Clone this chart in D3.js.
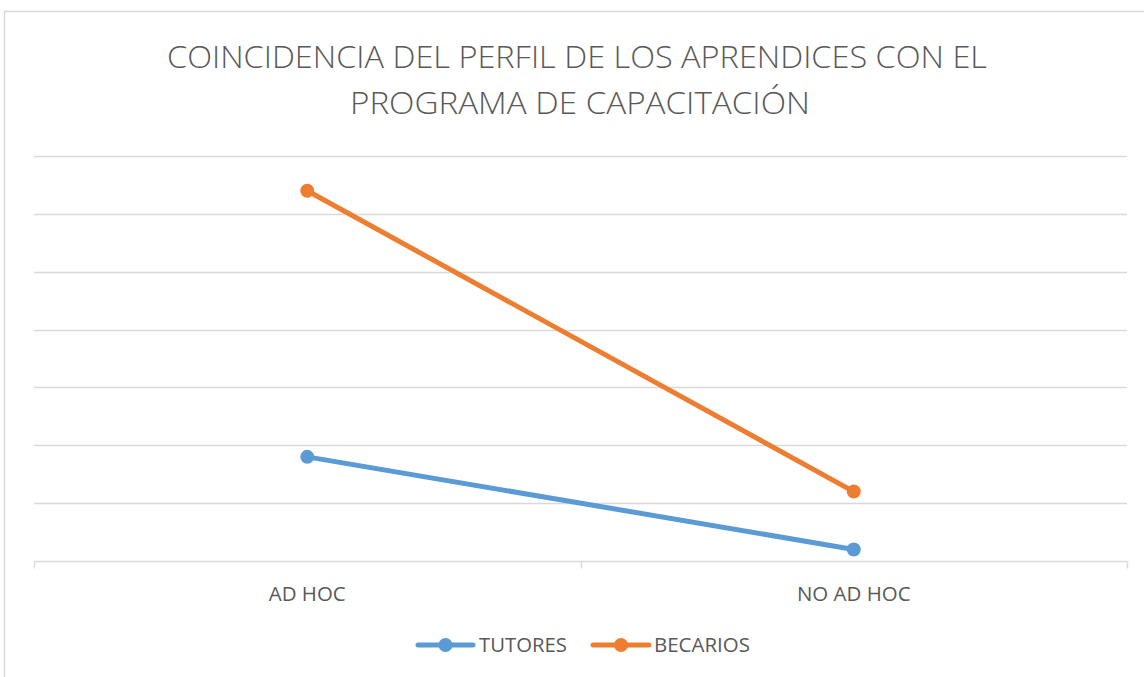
<!DOCTYPE html>
<html>
<head>
<meta charset="utf-8">
<script src="https://cdn.jsdelivr.net/npm/d3@7"></script>
<style>
  body { margin: 0; background: #fff; }
  svg { display: block; font-family: "Open Sans", "Liberation Sans", sans-serif; }
</style>
</head>
<body>
<svg width="1144" height="677"></svg>
<script>
const titleLines = ["COINCIDENCIA DEL PERFIL DE LOS APRENDICES CON EL", "PROGRAMA DE CAPACITACIÓN"];
const categories = ["AD HOC", "NO AD HOC"];
const seriesNames = ["TUTORES", "BECARIOS"];
const tutores = [18, 2];
const becarios = [64, 12];
const yTicks = [0, 10, 20, 30, 40, 50, 60, 70];
const colors = ["#5B9BD5", "#ED7D31"];

const svg = d3.select("svg"),
    width = +svg.attr("width"),
    height = +svg.attr("height");

const textColor = "#595959";
const gridColor = "#d9d9d9";

// chart area border
svg.append("rect")
    .attr("x", 4.5).attr("y", 11.5)
    .attr("width", 1160).attr("height", 700)
    .attr("fill", "none")
    .attr("stroke", gridColor)
    .attr("stroke-width", 1.5);

const plot = {left: 34, right: 1127, top: 156, bottom: 561};

const x = d3.scaleBand().domain(categories).range([plot.left, plot.right]);
const y = d3.scaleLinear().domain([0, 70]).range([plot.bottom, plot.top]);

// fit a text element's font size so it takes a given width
function fitText(sel, target) {
    const fs = parseFloat(sel.attr("font-size"));
    const w = sel.node().getComputedTextLength();
    sel.attr("font-size", fs * target / w);
}

// title (squeezed a little to look like Calibri Light)
const titleRows = [
    {y: 67.5, x1: 167, x2: 987},
    {y: 113.5, x1: 350, x2: 810}
];
titleLines.forEach((t, i) => {
    const r = titleRows[i];
    svg.append("text")
        .attr("x", r.x1).attr("y", r.y)
        .attr("fill", textColor)
        .attr("font-size", 31)
        .attr("font-weight", 300)
        .attr("textLength", r.x2 - r.x1)
        .attr("lengthAdjust", "spacingAndGlyphs")
        .text(t);
});

// gridlines
svg.append("g").selectAll("line")
    .data(yTicks.slice(1))
    .join("line")
    .attr("x1", plot.left).attr("x2", plot.right)
    .attr("y1", d => Math.round(y(d)) + 0.5).attr("y2", d => Math.round(y(d)) + 0.5)
    .attr("stroke", gridColor)
    .attr("stroke-width", 1.5);

// x axis
const xAxis = svg.append("g")
    .attr("transform", `translate(0,${plot.bottom + 0.5})`);
xAxis.append("line")
    .attr("x1", plot.left).attr("x2", plot.right)
    .attr("stroke", gridColor).attr("stroke-width", 1.5);
const tickXs = [plot.left, (plot.left + plot.right) / 2, plot.right];
xAxis.selectAll("line.tick")
    .data(tickXs)
    .join("line")
    .attr("class", "tick")
    .attr("x1", d => Math.round(d) + 0.5).attr("x2", d => Math.round(d) + 0.5)
    .attr("y1", 0).attr("y2", 7)
    .attr("stroke", gridColor).attr("stroke-width", 1.5);
const labels = xAxis.selectAll("text")
    .data(categories)
    .join("text")
    .attr("x", d => x(d) + x.bandwidth() / 2)
    .attr("y", 39)
    .attr("text-anchor", "middle")
    .attr("fill", textColor)
    .attr("font-size", 18)
    .text(d => d);
fitText(labels.filter((d, i) => i === 0), 77);
labels.attr("font-size", labels.filter((d, i) => i === 0).attr("font-size"));

// series
const series = [tutores, becarios];
const line = d3.line()
    .x((d, i) => x(categories[i]) + x.bandwidth() / 2)
    .y(d => y(d));

series.forEach((vals, s) => {
    svg.append("path")
        .datum(vals)
        .attr("d", line)
        .attr("fill", "none")
        .attr("stroke", colors[s])
        .attr("stroke-width", 5)
        .attr("stroke-linecap", "round");
    svg.append("g").selectAll("circle")
        .data(vals)
        .join("circle")
        .attr("cx", (d, i) => x(categories[i]) + x.bandwidth() / 2)
        .attr("cy", d => y(d))
        .attr("r", 7)
        .attr("fill", colors[s]);
});

// legend
const legendItems = [
    {name: seriesNames[0], x1: 418, x2: 473, tx: 479, w: 88},
    {name: seriesNames[1], x1: 593, x2: 649, tx: 654, w: 96}
];
const legendY = 645;
legendItems.forEach((it, s) => {
    const g = svg.append("g");
    g.append("line")
        .attr("x1", it.x1).attr("x2", it.x2)
        .attr("y1", legendY).attr("y2", legendY)
        .attr("stroke", colors[s])
        .attr("stroke-width", 5)
        .attr("stroke-linecap", "round");
    g.append("circle")
        .attr("cx", (it.x1 + it.x2) / 2).attr("cy", legendY)
        .attr("r", 7)
        .attr("fill", colors[s]);
    const t = g.append("text")
        .attr("x", it.tx).attr("y", legendY + 7)
        .attr("fill", textColor)
        .attr("font-size", 18)
        .text(it.name);
    fitText(t, it.w);
});
</script>
</body>
</html>
